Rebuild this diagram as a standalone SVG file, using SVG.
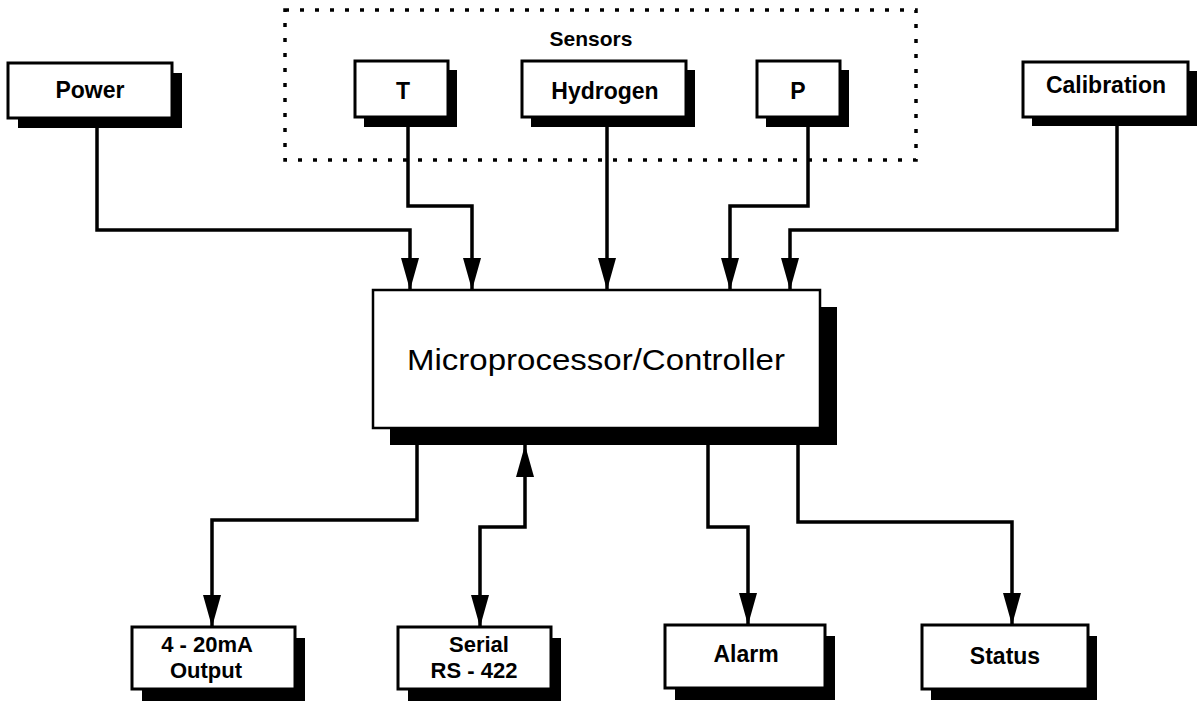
<svg xmlns="http://www.w3.org/2000/svg" width="1202" height="707" viewBox="0 0 1202 707">
<style>
.box{fill:#fff;stroke:#000;stroke-width:3}
.sh{fill:#000}
.lbl{font-family:"Liberation Sans",Arial,sans-serif;font-weight:bold;font-size:23px;fill:#000;text-anchor:middle}
.lbl2{font-family:"Liberation Sans",Arial,sans-serif;font-weight:bold;font-size:22px;fill:#000;text-anchor:middle}
.main{font-family:"Liberation Sans",Arial,sans-serif;font-size:29px;fill:#000;text-anchor:middle}
.conn{fill:none;stroke:#000;stroke-width:3.5}
.dot{fill:none;stroke:#000;stroke-width:3.5;stroke-dasharray:4 11}
</style>
<defs>
<marker id="ah" markerUnits="userSpaceOnUse" viewBox="0 0 32 18" refX="32" refY="9" markerWidth="32" markerHeight="18" orient="auto-start-reverse">
<path d="M0,0 L32,9 L0,18 z" fill="#000"/>
</marker>
</defs>
<rect width="1202" height="707" fill="#fff"/>

<g id="sensors-group">
<rect class="dot" x="285" y="10" width="631" height="150"/>
<text class="lbl" x="591" y="46" style="font-size:21px">Sensors</text>
</g>

<g id="power">
<rect class="sh" x="18" y="73" width="164" height="55"/>
<rect class="box" x="8" y="63" width="164" height="55"/>
<text class="lbl" x="90" y="98">Power</text>
</g>

<g id="t">
<rect class="sh" x="364" y="70" width="93" height="57"/>
<rect class="box" x="355" y="61" width="93" height="56"/>
<text class="lbl" x="403" y="99">T</text>
</g>

<g id="hydrogen">
<rect class="sh" x="531" y="70" width="164" height="57"/>
<rect class="box" x="522" y="61" width="164" height="56"/>
<text class="lbl" x="605" y="99">Hydrogen</text>
</g>

<g id="p">
<rect class="sh" x="766" y="70" width="83" height="57"/>
<rect class="box" x="757" y="61" width="83" height="56"/>
<text class="lbl" x="798" y="99">P</text>
</g>

<g id="calibration">
<rect class="sh" x="1032" y="71" width="165" height="55"/>
<rect class="box" x="1023" y="62" width="165" height="55"/>
<text class="lbl" x="1106" y="93">Calibration</text>
</g>

<g id="controller">
<rect class="sh" x="390" y="307" width="447" height="138"/>
<rect class="box" x="373" y="290" width="447" height="138" style="stroke-width:2.5"/>
<text class="main" x="596" y="370" textLength="378" lengthAdjust="spacingAndGlyphs">Microprocessor/Controller</text>
</g>

<g id="output">
<rect class="sh" x="142" y="638" width="163" height="63"/>
<rect class="box" x="132" y="627" width="163" height="62"/>
<text class="lbl2" x="207" y="652">4 - 20mA</text>
<text class="lbl2" x="206" y="678">Output</text>
</g>

<g id="serial">
<rect class="sh" x="408" y="638" width="153" height="63"/>
<rect class="box" x="398" y="627" width="153" height="62"/>
<text class="lbl2" x="479" y="652">Serial</text>
<text class="lbl2" x="474" y="678">RS - 422</text>
</g>

<g id="alarm">
<rect class="sh" x="675" y="636" width="160" height="64"/>
<rect class="box" x="665" y="625" width="160" height="63"/>
<text class="lbl" x="746" y="662">Alarm</text>
</g>

<g id="status">
<rect class="sh" x="931" y="636" width="166" height="64"/>
<rect class="box" x="922" y="625" width="166" height="64"/>
<text class="lbl" x="1005" y="664">Status</text>
</g>

<g id="connectors">
<path class="conn" d="M97,128 V230 H410 V290" marker-end="url(#ah)"/>
<path class="conn" d="M408,127 V206 H472 V290" marker-end="url(#ah)"/>
<path class="conn" d="M607,127 V290" marker-end="url(#ah)"/>
<path class="conn" d="M808,127 V206 H730 V290" marker-end="url(#ah)"/>
<path class="conn" d="M1117,126 V230 H790 V290" marker-end="url(#ah)"/>
<path class="conn" d="M417,445 V520 H212 V627" marker-end="url(#ah)"/>
<path class="conn" d="M525,445 V527 H480 V627" marker-start="url(#ah)" marker-end="url(#ah)"/>
<path class="conn" d="M708,445 V527 H748 V625" marker-end="url(#ah)"/>
<path class="conn" d="M798,445 V522 H1012 V625" marker-end="url(#ah)"/>
</g>
</svg>
